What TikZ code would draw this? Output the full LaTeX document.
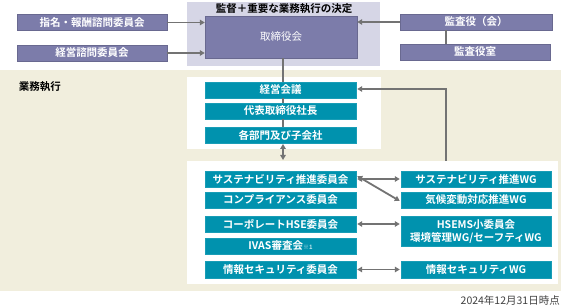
\documentclass[tikz,border=0pt]{standalone}
\usepackage{fontspec}
\setmainfont{Noto Sans CJK JP}
\newfontfamily\jpb{Noto Sans CJK JP Bold}
\usetikzlibrary{arrows.meta}
\definecolor{lav}{HTML}{D6D6E6}
\definecolor{purp}{HTML}{7C7CAA}
\definecolor{teal1}{HTML}{0092AE}
\definecolor{beige}{HTML}{F1EEDD}
\definecolor{arr}{HTML}{737373}
\tikzset{
  pbox/.style={fill=purp, draw=purp!85!black, line width=0.4pt, text=white, font=\jpb\fontsize{10.5}{12}\selectfont, inner sep=0pt, minimum height=16pt, anchor=center},
  tbox/.style={fill=teal1, draw=teal1!90!white, line width=0.4pt, text=white, font=\jpb\fontsize{10.5}{12}\selectfont, inner sep=0pt, minimum height=16.5pt, anchor=center, align=center},
  conn/.style={draw=arr, line width=1.8pt},
  oneway/.style={conn, -{Triangle[length=5pt,width=5.5pt]}},
  twoway/.style={conn, {Triangle[length=5pt,width=5.5pt]}-{Triangle[length=5pt,width=5.5pt]}},
}
\begin{document}
\begin{tikzpicture}[x=1pt,y=-1pt]
\useasboundingbox (0,0) rectangle (563,307);
% backgrounds
\fill[lav] (187,2) rectangle (380,66);
\fill[beige] (0,70) rectangle (561,291);
\fill[white] (187,77) rectangle (381,149);
\fill[white] (187,161) rectangle (558,284);
\node[font=\jpb\fontsize{10.5}{12}\selectfont, text=black, inner sep=0pt] (title) at (284,9) {監督＋重要な業務執行の決定};
\node[font=\jpb\fontsize{10.5}{12}\selectfont, text=black, inner sep=0pt] (gyomu) at (40,87) {業務執行};
% top
\node[pbox, minimum width=150pt] (shimei) at (92,22.5) {指名・報酬諮問委員会};
\node[pbox, minimum width=150pt] (keishi) at (92,53) {経営諮問委員会};
\node[pbox, minimum width=152pt, minimum height=42pt, font=\fontsize{10.5}{12}\selectfont] (tori) at (281,37) {取締役会};
\node[pbox, minimum width=152pt] (kansa) at (476,22) {監査役（会）};
\node[pbox, minimum width=150pt] (kansas) at (475,52) {監査役室};
% exec
\node[tbox, minimum width=151pt] (keiei) at (280.5,90) {経営会議};
\node[tbox, minimum width=151pt] (daihyo) at (280.5,111) {代表取締役社長};
\node[tbox, minimum width=151pt] (kakubu) at (280.5,135) {各部門及び子会社};
% committees
\node[tbox, minimum width=151pt] (sus) at (280.5,179) {サステナビリティ推進委員会};
\node[tbox, minimum width=151pt] (comp) at (280.5,200) {コンプライアンス委員会};
\node[tbox, minimum width=151pt] (hse) at (280.5,224) {コーポレートHSE委員会};
\node[tbox, minimum width=151pt] (ivas) at (280.5,246) {IVAS審査会{\fontsize{6}{7}\selectfont\color{white!75!teal1}※1}};
\node[tbox, minimum width=151pt] (info) at (280.5,269.5) {情報セキュリティ委員会};
\node[tbox, minimum width=150pt] (susw) at (476,179) {サステナビリティ推進WG};
\node[tbox, minimum width=150pt] (kiko) at (476,200) {気候変動対応推進WG};
\node[tbox, minimum width=150pt, minimum height=30pt, font=\jpb\fontsize{10.5}{13}\selectfont] (hsems) at (476,231) {HSEMS小委員会\\環境管理WG/セーフティWG};
\node[tbox, minimum width=150pt] (infow) at (476,269.5) {情報セキュリティWG};
\node[font=\fontsize{10.5}{12}\selectfont, text=black!75, anchor=east, inner sep=0pt] (date) at (560,300) {2024年12月31日時点};
% connectors
\coordinate (w2top) at (446,161);
\coordinate (bend) at (446,89);
\coordinate (w2in) at (283,161);
\draw[oneway] (shimei.east) -- (tori.west |- shimei.east);
\draw[oneway] (keishi.east) -- (tori.west |- keishi.east);
\draw[oneway] (kansa.west) -- (tori.east |- kansa.west);
\draw[conn] (kansa.south -| 446,0) -- (kansas.north -| 446,0);
\draw[conn] (tori.south -| 283,0) -- (keiei.north -| 283,0);
\draw[conn] (keiei.south -| 283,0) -- (daihyo.north -| 283,0);
\draw[conn] (daihyo.south -| 283,0) -- (kakubu.north -| 283,0);
\draw[twoway] ([yshift=-0.5pt]kakubu.south -| 283,0) -- ([yshift=1pt]w2in);
\draw[oneway] (w2top) -- (bend) -- ([xshift=1pt]keiei.east |- bend);
\draw[twoway] ([xshift=1pt]sus.east) -- ([xshift=-1pt]susw.west);
\draw[twoway] ([xshift=1pt,yshift=3pt]sus.east) -- ([xshift=-1pt,yshift=-1pt]kiko.west);
\draw[twoway] ([xshift=1pt]hse.east) -- ([xshift=-1pt]hse.east -| hsems.west);
\draw[twoway] ([xshift=1pt]info.east) -- ([xshift=-1pt]infow.west);
\end{tikzpicture}
\end{document}
